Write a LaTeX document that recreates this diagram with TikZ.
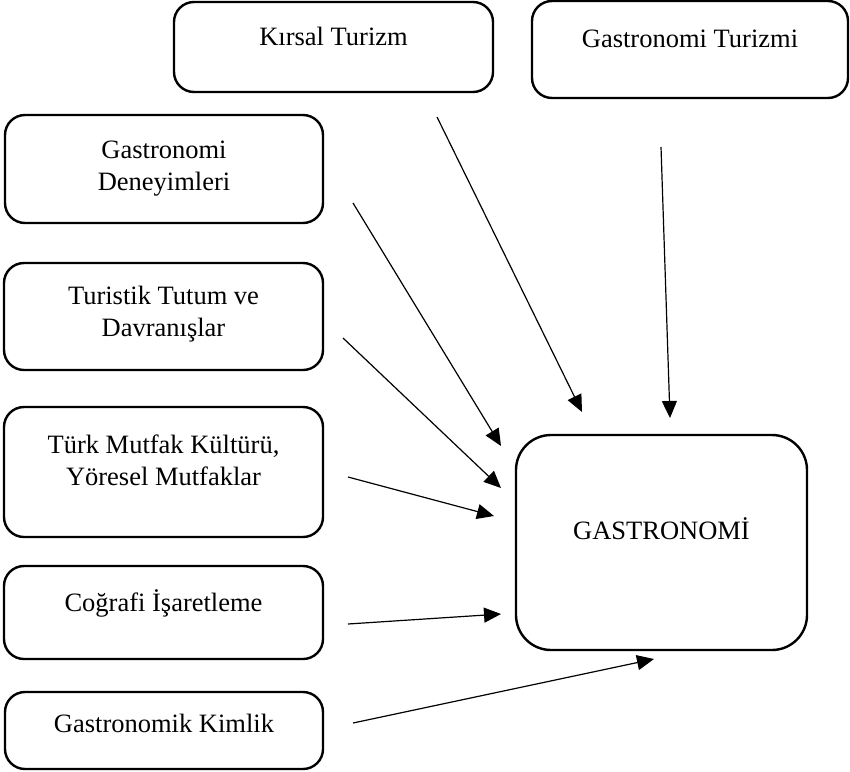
\documentclass[tikz,border=0pt]{standalone}
\usepackage{fontspec}
\setmainfont{Liberation Serif}
\usetikzlibrary{arrows.meta}

\begin{document}
\begin{tikzpicture}[x=1pt,y=-1pt,
    block/.style={draw,line width=2.4pt,rounded corners=20pt,inner sep=0pt},
    every label/.style={font=\fontsize{26.5}{32}\selectfont,align=center}]

  \useasboundingbox (0,0) rectangle (850,771);

  \node[block,minimum width=319pt,minimum height=90pt,
    label={[yshift=11pt]center:{Kırsal Turizm}}] (kirsal) at (333.5,47) {};
  \node[block,minimum width=316pt,minimum height=97pt,
    label={[yshift=10.5pt]center:{Gastronomi Turizmi}}] (gturizm) at (690,49.5) {};
  \node[block,minimum width=318pt,minimum height=108pt,
    label={[yshift=0pt]center:{Gastronomi\\Deneyimleri}}] (deneyim) at (164,169) {};
  \node[block,minimum width=319pt,minimum height=107pt,
    label={[yshift=2.5pt]center:{Turistik Tutum ve\\Davranışlar}}] (tutum) at (163.5,316.5) {};
  \node[block,minimum width=319pt,minimum height=130pt,
    label={[yshift=12pt]center:{Türk Mutfak Kültürü,\\Yöresel Mutfaklar}}] (mutfak) at (163.5,472) {};
  \node[block,minimum width=319pt,minimum height=93pt,
    label={[yshift=9.5pt]center:{Coğrafi İşaretleme}}] (cografi) at (163.5,612.5) {};
  \node[block,minimum width=318pt,minimum height=77pt,
    label={[yshift=7.5pt]center:{Gastronomik Kimlik}}] (kimlik) at (164,730.5) {};
  \node[block,rounded corners=35pt,minimum width=291pt,minimum height=215pt,
    label={[yshift=13.5pt]center:{GASTRONOMİ}}] (gastro) at (661.5,542.5) {};

  % arrow ends
  \coordinate (kirsal-s) at (437,117);
  \coordinate (kirsal-t) at (582,412);
  \coordinate (gturizm-s) at (661,147);
  \coordinate (gturizm-t) at (670,418);
  \coordinate (deneyim-s) at (353,203);
  \coordinate (deneyim-t) at (501,446);
  \coordinate (tutum-s) at (343,338);
  \coordinate (tutum-t) at (501,488);
  \coordinate (mutfak-s) at (348,477);
  \coordinate (mutfak-t) at (494,516);
  \coordinate (cografi-s) at (348,624);
  \coordinate (cografi-t) at (501,614);
  \coordinate (kimlik-s) at (353,723);
  \coordinate (kimlik-t) at (654,659);

  \begin{scope}[every edge/.style={draw,line width=1.2pt,-{Triangle[length=17pt,width=15pt]}}]
    \path (kirsal-s) edge (kirsal-t);
    \path (gturizm-s) edge (gturizm-t);
    \path (deneyim-s) edge (deneyim-t);
    \path (tutum-s) edge (tutum-t);
    \path (mutfak-s) edge (mutfak-t);
    \path (cografi-s) edge (cografi-t);
    \path (kimlik-s) edge (kimlik-t);
  \end{scope}

\end{tikzpicture}
\end{document}
